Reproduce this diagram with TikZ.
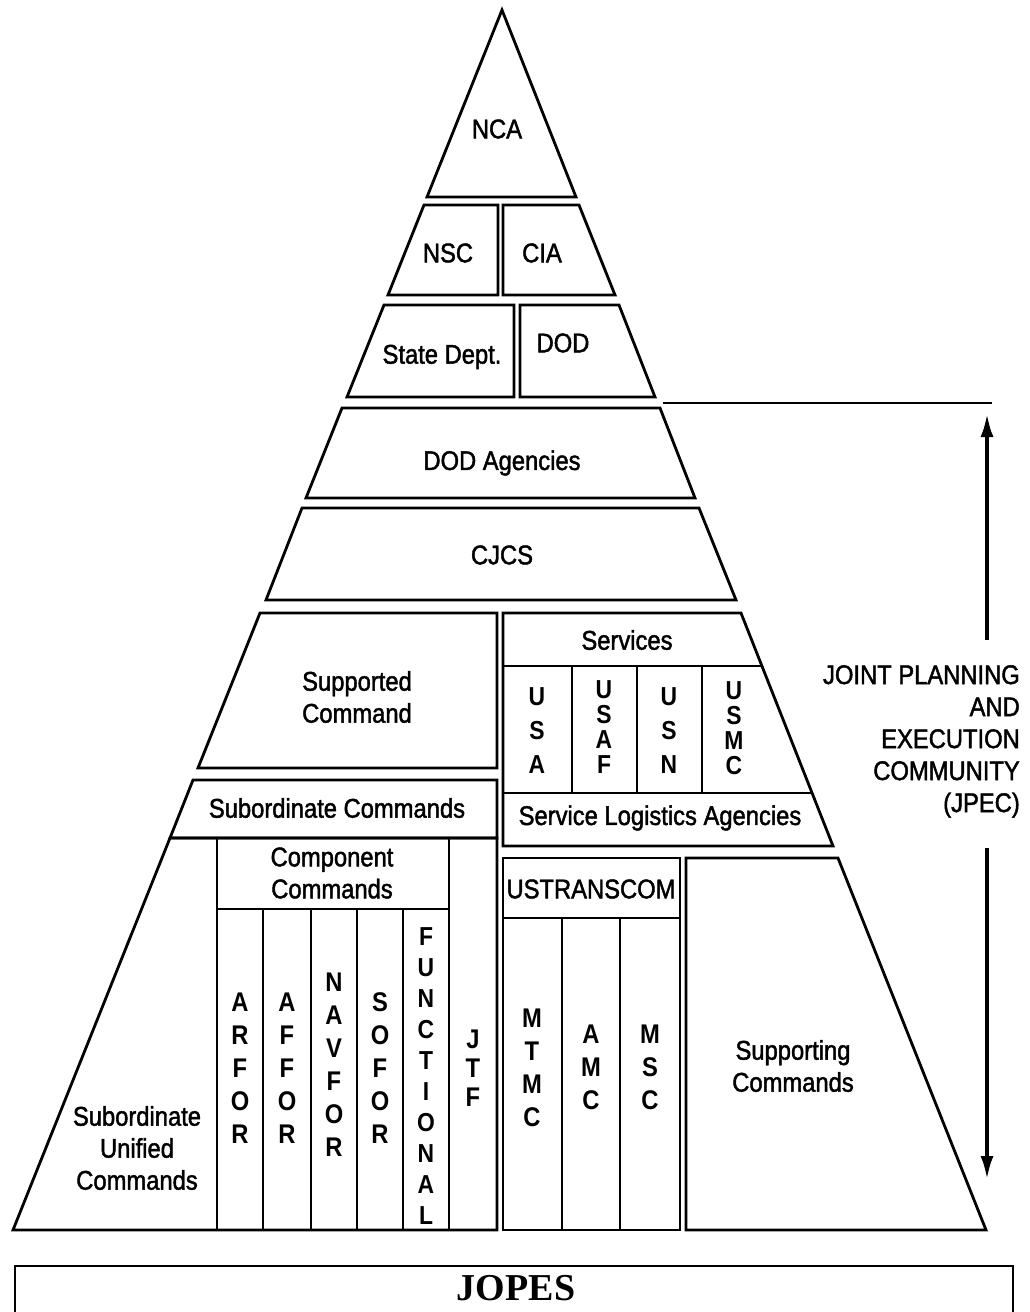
\documentclass[tikz,border=0pt]{standalone}
\usepackage{fontspec}
\setmainfont{Liberation Sans}[FakeStretch=0.88, UprightFeatures={FakeBold=1.6}]
\newfontfamily\jopesfont{Liberation Serif}
\usetikzlibrary{arrows.meta,positioning}
\tikzset{
  band/.style  = {draw, line width=2.8pt, line join=miter},
  lbl/.style   = {inner sep=0pt, align=center, font=\fontsize{27}{32}\selectfont},
  stack/.style = {inner sep=0pt, align=center, font=\bfseries\fontsize{27}{33}\selectfont},
  svc/.style   = {stack, font=\bfseries\fontsize{26}{34}\selectfont},
  svc four/.style = {stack, font=\bfseries\fontsize{26}{25}\selectfont},
  jarrow/.style = {line width=4pt, -{Latex[length=24pt,width=13pt]}}
}

\begin{document}
\begin{tikzpicture}[x=1pt,y=-1pt]
\useasboundingbox (0,0) rectangle (1029,1312);
\clip (0,0) rectangle (1029,1312);

% top of the pyramid
\draw[band] (502,10) -- (576,197) -- (427,197) -- cycle;
\node[lbl] (nca) at (497,129) {NCA};

% NSC and CIA
\draw[band] (424,205) -- (498,205) -- (498,295) -- (388,295) -- cycle;
\draw[band] (503,205) -- (579,205) -- (615,295) -- (503,295) -- cycle;
\node[lbl] (nsc) at (448,253) {NSC};
\node[lbl] (cia) at (542,253) {CIA};

% State Dept. and DOD
\draw[band] (384,305) -- (514,305) -- (514,397) -- (347,397) -- cycle;
\draw[band] (520,305) -- (619,305) -- (655,397) -- (520,397) -- cycle;
\node[lbl] (state) at (442,357) {State Dept.};
\node[lbl] (dod) at (563,343) {DOD};

% DOD Agencies and CJCS
\draw[band] (342,408) -- (660,408) -- (695,498) -- (306,498) -- cycle;
\node[lbl] (agencies) at (502,463) {DOD Agencies};
\draw[band] (302,508) -- (699,508) -- (736,600) -- (266,600) -- cycle;
\node[lbl] (cjcs) at (502,555) {CJCS};

%Supported side
\draw[band] (260,613) -- (497,613) -- (497,768) -- (198,768) -- cycle;
\node[lbl] (supported) at (357,697) {Supported\\Command};
\draw[band] (193,780) -- (497,780) -- (497,838) -- (170,838) -- cycle;
\node[lbl] (subcmds) at (337,808) {Subordinate Commands};
\draw[band] (170,838) -- (497,838) -- (497,1230) -- (13,1230) -- cycle;
\draw[band] (217,838) rectangle (449,909);
\draw[band] (217,909) -- (217,1230);
\foreach \x in {263,311,357,403,449}
  \draw[band] (\x,909) -- (\x,1230);
\node[lbl] (subunified) at (137,1148) {Subordinate\\Unified\\Commands};
\node[lbl] (component) at (332,873) {Component\\Commands};
\node[stack] (arfor) at (240,1068) {A\\R\\F\\O\\R};
\node[stack] (affor) at (287,1068) {A\\F\\F\\O\\R};
\node[stack] (navfor) at (334,1065) {N\\A\\V\\F\\O\\R};
\node[stack] (sofor) at (380,1068) {S\\O\\F\\O\\R};
\node[stack, font=\bfseries\fontsize{26}{31}\selectfont] (functional) at (426,1076)
  {F\\U\\N\\C\\T\\I\\O\\N\\A\\L};
\node[stack, font=\bfseries\fontsize{27}{29}\selectfont] (jtf) at (473,1068) {J\\T\\F};

%Services
\draw[band] (503,613) -- (741,613) -- (833,846) -- (503,846) -- cycle;
\draw[band] (503,666) -- (762,666);
\draw[band] (503,793) -- (812,793);
\foreach \x in {572,637,702}
  \draw[band] (\x,666) -- (\x,793);
\node[lbl] (services) at (627,640) {Services};
\node[svc] (usa) at (537,731) {U\\S\\A};
\node[svc four] (usaf) at (604,727) {U\\S\\A\\F};
\node[svc] (usn) at (669,731) {U\\S\\N};
\node[svc four] (usmc) at (734,728) {U\\S\\M\\C};
\node[lbl] (logistics) at (660,818) {Service Logistics Agencies};

%USTRANSCOM
\draw[band] (503,858) rectangle (680,1230);
\draw[band] (503,918) -- (680,918);
\foreach \x in {562,620}
  \draw[band] (\x,918) -- (\x,1230);
\node[lbl] (ustranscom) at (591,889) {USTRANSCOM};
\node[stack] (mtmc) at (532,1068) {M\\T\\M\\C};
\node[stack] (amc) at (591,1067) {A\\M\\C};
\node[stack] (msc) at (650,1067) {M\\S\\C};

%Supporting
\draw[band] (686,858) -- (838,858) -- (986,1230) -- (686,1230) -- cycle;
\node[lbl] (supporting) at (793,1066) {Supporting\\Commands};

% JPEC
\draw[line width=1.6pt] (663,403) -- (992,403);
\node[lbl, align=right, anchor=north east] (jpec) at (1020,665)
  {JOINT PLANNING\\AND\\EXECUTION\\COMMUNITY\\(JPEC)};
\coordinate (uptip) at (987,413);
\coordinate (uptail) at (987,640);
\coordinate (dntail) at (987,848);
\coordinate (dntip) at (987,1180);
\draw[jarrow] (uptail) -- (uptip);
\draw[jarrow] (dntail) -- (dntip);

% JOPES
\draw[band, line width=2.2pt] (15,1266) rectangle (1013,1340);
\node[inner sep=0pt, font=\jopesfont\bfseries\fontsize{38}{40}\selectfont] (jopes) at (516,1288) {JOPES};
\end{tikzpicture}
\end{document}
